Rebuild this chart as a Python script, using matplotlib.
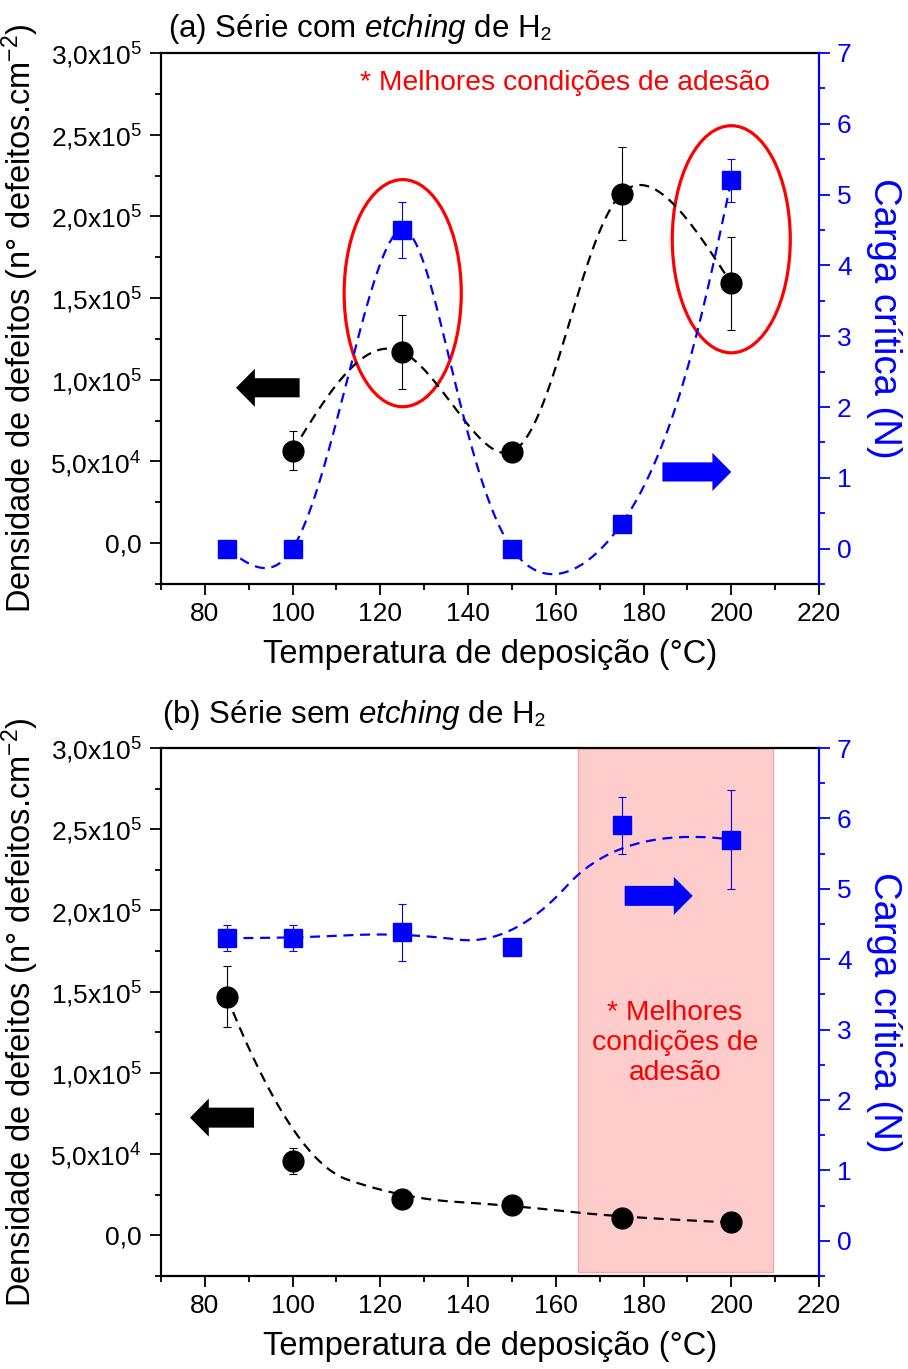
import numpy as np
import matplotlib
matplotlib.use('Agg')
import matplotlib.pyplot as plt
from matplotlib.patches import Ellipse, FancyArrow
from matplotlib.ticker import MultipleLocator, FuncFormatter

plt.rcParams['font.family'] = ['Liberation Sans', 'DejaVu Sans']
plt.rcParams['mathtext.fontset'] = 'custom'
plt.rcParams['mathtext.rm'] = 'Liberation Sans'
plt.rcParams['mathtext.it'] = 'Liberation Sans:italic'
plt.rcParams['mathtext.bf'] = 'Liberation Sans:bold'

# ---- dados ----
temp = [85, 100, 125, 150, 175, 200]

# (a) com etching
temp_dens_a = [100, 125, 150, 175, 200]
dens_a = [5.65e4, 1.17e5, 5.6e4, 2.14e5, 1.59e5]
dens_a_err = [1.2e4, 2.25e4, 0, 2.85e4, 2.85e4]
carga_a = [0, 0, 4.5, 0, 0.35, 5.2]
carga_a_err = [0, 0, 0.4, 0, 0, 0.3]

# (b) sem etching
dens_b = [1.47e5, 4.6e4, 2.27e4, 1.85e4, 1.1e4, 8e3]
dens_b_err = [1.9e4, 8e3, 0, 0, 0, 0]
carga_b = [4.3, 4.3, 4.38, 4.18, 5.9, 5.7]
carga_b_err = [0.19, 0.18, 0.4, 0, 0.4, 0.7]

BLUE = (0, 0, 1)
RED = (1, 0, 0)


def natural_spline(x, y, xs):
    # spline cubica natural
    x = np.asarray(x, float)
    y = np.asarray(y, float)
    n = len(x)
    h = np.diff(x)
    A = np.zeros((n, n))
    r = np.zeros(n)
    A[0, 0] = A[-1, -1] = 1
    for i in range(1, n - 1):
        A[i, i - 1] = h[i - 1]
        A[i, i] = 2 * (h[i - 1] + h[i])
        A[i, i + 1] = h[i]
        r[i] = 6 * ((y[i + 1] - y[i]) / h[i] - (y[i] - y[i - 1]) / h[i - 1])
    M = np.linalg.solve(A, r)
    idx = np.clip(np.searchsorted(x, xs) - 1, 0, n - 2)
    x0, x1 = x[idx], x[idx + 1]
    hh = x1 - x0
    a = (x1 - xs) / hh
    b = (xs - x0) / hh
    return a * y[idx] + b * y[idx + 1] + ((a ** 3 - a) * M[idx] + (b ** 3 - b) * M[idx + 1]) * hh ** 2 / 6


def param_spline(ax, x, y, alpha=0.4, npts=400):
    # spline parametrica em pixels
    pts = ax.transData.transform(np.column_stack([x, y]))
    d = np.hypot(*np.diff(pts, axis=0).T) ** alpha
    s = np.concatenate([[0], np.cumsum(d)])
    ss = np.linspace(0, s[-1], npts)
    px = natural_spline(s, pts[:, 0], ss)
    py = natural_spline(s, pts[:, 1], ss)
    out = ax.transData.inverted().transform(np.column_stack([px, py]))
    return out[:, 0], out[:, 1]


def quad_bspline(x, y, npts=40):
    # B-spline quadratica (nao passa pelos pontos intermediarios)
    P = np.column_stack([x, y]).astype(float)
    mids = (P[1:-2] + P[2:-1]) / 2
    starts = np.vstack([P[:1], mids])
    ends = np.vstack([mids, P[-1:]])
    ctrl = P[1:-1]
    t = np.linspace(0, 1, npts)[:, None]
    segs = [(1 - t) ** 2 * s + 2 * (1 - t) * t * c + t ** 2 * e
            for s, c, e in zip(starts, ctrl, ends)]
    out = np.vstack(segs)
    return out[:, 0], out[:, 1]


def sci_comma(v, pos):
    if abs(v) < 1e-9:
        return '0,0'
    e = int(np.floor(np.log10(abs(v)) + 1e-9))
    m = v / 10 ** e
    return f'{m:.1f}'.replace('.', ',') + r'x10$^{%d}$' % e


def setup(ax, ax2):
    ax.set_xlim(70, 220)
    ax.set_ylim(-2.5e4, 3e5)
    ax2.set_ylim(-0.5, 7)
    ax.set_xticks(np.arange(80, 221, 20))
    ax.xaxis.set_minor_locator(MultipleLocator(10))
    ax.set_yticks(np.arange(0, 3.01e5, 5e4))
    ax.yaxis.set_minor_locator(MultipleLocator(2.5e4))
    ax.yaxis.set_major_formatter(FuncFormatter(sci_comma))
    ax2.set_yticks(range(0, 8))
    ax2.yaxis.set_minor_locator(MultipleLocator(0.5))

    ax.tick_params(which='both', direction='out', width=1.3, top=False, right=False)
    ax.tick_params(which='major', length=8, labelsize=19)
    ax.tick_params(which='minor', length=4.5)
    ax.tick_params(axis='y', pad=6)
    ax.tick_params(axis='x', pad=5)
    ax2.tick_params(which='both', direction='out', width=1.3, color=BLUE, labelcolor=BLUE)
    ax2.tick_params(which='major', length=8, labelsize=19, pad=5)
    ax2.tick_params(which='minor', length=4.5)

    for s in ['left', 'bottom', 'top']:
        ax.spines[s].set_linewidth(1.6)
        ax2.spines[s].set_visible(False)
    ax.spines['right'].set_visible(False)
    ax2.spines['right'].set_color(BLUE)
    ax2.spines['right'].set_linewidth(1.6)

    ax.set_xlabel('Temperatura de deposição (°C)', fontsize=23.5, labelpad=9)
    ax.set_ylabel('Densidade de defeitos (n° defeitos.cm$^{-2}$)', fontsize=23.5, labelpad=7)
    ax2.set_ylabel('Carga crítica (N)', fontsize=27.5, color=BLUE, rotation=270,
                   va='bottom', labelpad=10)


fig = plt.figure(figsize=(9.08, 13.69), dpi=100)
ax_a = fig.add_axes([0.1773, 0.5734, 0.7247, 0.3879])
ax_a2 = ax_a.twinx()
ax_b = fig.add_axes([0.1773, 0.0679, 0.7247, 0.3857])
ax_b2 = ax_b.twinx()
setup(ax_a, ax_a2)
setup(ax_b, ax_b2)

dash = (4.5, 3)

# ---------------- (a) ----------------
sx, sy = param_spline(ax_a, temp_dens_a, dens_a)
ax_a.plot(sx, sy, color='k', lw=1.6, dashes=dash)
ax_a.errorbar(temp_dens_a, dens_a, yerr=dens_a_err, fmt='none', ecolor='k',
              elinewidth=0.8, capsize=3, capthick=0.8)
ax_a.plot(temp_dens_a, dens_a, 'o', color='k', ms=15, zorder=4)

sx, sy = param_spline(ax_a2, temp, carga_a)
ax_a2.plot(sx, sy, color=BLUE, lw=1.6, dashes=dash)
ax_a2.errorbar(temp, carga_a, yerr=carga_a_err, fmt='none', ecolor=BLUE,
               elinewidth=0.8, capsize=3, capthick=0.8)
ax_a2.plot(temp, carga_a, 's', color=BLUE, ms=13.5, zorder=4)

ax_a.add_patch(Ellipse((125.1, 1.53e5), 26.7, 1.39e5, fill=False, edgecolor=RED, lw=2.3))
ax_a.add_patch(Ellipse((200, 1.86e5), 26.9, 1.39e5, fill=False, edgecolor=RED, lw=2.3))
ax_a.add_patch(FancyArrow(101.6, 0.951e5, -14.5, 0, width=1.17e4, head_width=2.33e4,
                          head_length=4.3, length_includes_head=True, color='k', lw=0))
ax_a.add_patch(FancyArrow(184.3, 0.436e5, 15.7, 0, width=1.17e4, head_width=2.33e4,
                          head_length=4.3, length_includes_head=True, color=BLUE, lw=0))
ax_a.text(0.614, 0.943, '* Melhores condições de adesão', transform=ax_a.transAxes,
          color=RED, fontsize=20.3, ha='center', va='center')
ax_a.text(0.011, 1.03, r'(a) Série com $\mathit{etching}$ de H₂', transform=ax_a.transAxes,
          fontsize=22.5, ha='left', va='baseline')

# ---------------- (b) ----------------
ax_b.axvspan(165, 209.5, ymin=0.008, ymax=1, facecolor=(1, 0.8, 0.8),
             edgecolor=(0.96, 0.65, 0.65), lw=1, zorder=0)

bx, by = quad_bspline(temp, dens_b)
ax_b.plot(bx, by, color='k', lw=1.6, dashes=dash)
ax_b.errorbar(temp, dens_b, yerr=dens_b_err, fmt='none', ecolor='k',
              elinewidth=0.8, capsize=3, capthick=0.8)
ax_b.plot(temp, dens_b, 'o', color='k', ms=15, zorder=4)

bx, by = quad_bspline(temp, carga_b)
ax_b2.plot(bx, by, color=BLUE, lw=1.6, dashes=dash)
ax_b2.errorbar(temp, carga_b, yerr=carga_b_err, fmt='none', ecolor=BLUE,
               elinewidth=0.8, capsize=3, capthick=0.8)
ax_b2.plot(temp, carga_b, 's', color=BLUE, ms=13.5, zorder=4)

ax_b.add_patch(FancyArrow(91.2, 0.725e5, -14.6, 0, width=1.23e4, head_width=2.34e4,
                          head_length=4.3, length_includes_head=True, color='k', lw=0))
ax_b.add_patch(FancyArrow(175.7, 2.09e5, 15.5, 0, width=1.23e4, head_width=2.34e4,
                          head_length=4.3, length_includes_head=True, color=BLUE, lw=0))
ax_b.text(0.781, 0.441, '* Melhores\ncondições de\nadesão', transform=ax_b.transAxes,
          color=RED, fontsize=20.3, ha='center', va='center', multialignment='center',
          linespacing=1.2)
ax_b.text(0.002, 1.047, r'(b) Série sem $\mathit{etching}$ de H₂', transform=ax_b.transAxes,
          fontsize=22.5, ha='left', va='baseline')

fig.savefig('out.png', dpi=100)
